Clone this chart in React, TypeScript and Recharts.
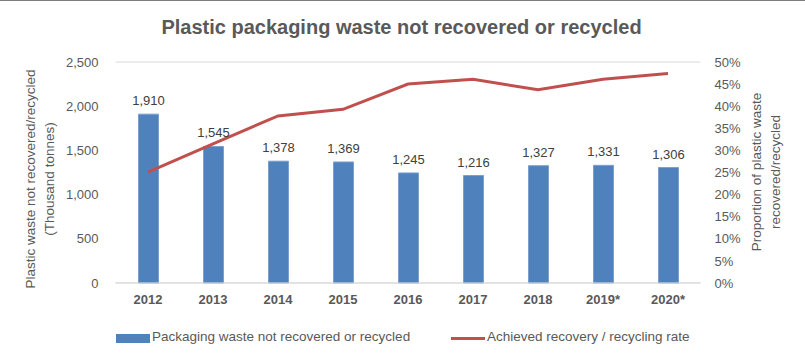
import { ComposedChart, Bar, Line, XAxis, YAxis, CartesianGrid, LabelList } from 'recharts'

const years = ['2012', '2013', '2014', '2015', '2016', '2017', '2018', '2019*', '2020*']
const wasteNotRecovered = [1910, 1545, 1378, 1369, 1245, 1216, 1327, 1331, 1306]
const recoveryRate = [25.1, 31.5, 37.8, 39.3, 45.0, 46.1, 43.7, 46.1, 47.4]
const leftTicks = [0, 500, 1000, 1500, 2000, 2500]
const rightTicks = [0, 5, 10, 15, 20, 25, 30, 35, 40, 45, 50]

const data = years.map((year, i) => ({
  year,
  waste: wasteNotRecovered[i],
  rate: recoveryRate[i],
}))

const FONT = '"Liberation Sans", Arial, sans-serif'
const GREY = '#595959'

const fmt = (v: number) => v.toLocaleString('en-US')

const rotated = (left: number, top: number) => ({
  position: 'absolute' as const,
  left,
  top,
  transform: 'translate(-50%, -50%) rotate(-90deg)',
  whiteSpace: 'nowrap' as const,
  textAlign: 'center' as const,
  fontSize: 13.5,
  lineHeight: '19px',
  color: GREY,
})

function ChartLegend() {
  return (
    <div style={{ position: 'absolute', left: 0, top: 329, fontSize: 13.5, color: GREY, whiteSpace: 'nowrap' }}>
      <span style={{ position: 'absolute', left: 116, top: 5, width: 34, height: 9, background: '#4F81BD' }} />
      <span style={{ position: 'absolute', left: 152, top: 0 }}>Packaging waste not recovered or recycled</span>
      <span style={{ position: 'absolute', left: 451, top: 8, width: 34, height: 3, background: '#C0504D' }} />
      <span style={{ position: 'absolute', left: 487, top: 0 }}>Achieved recovery / recycling rate</span>
    </div>
  )
}

export default function App() {
  return (
    <div style={{ position: 'relative', width: 805, height: 357, background: '#fff', fontFamily: FONT }}>
      <style>{'body{margin:0}'}</style>
      <div style={{ position: 'absolute', left: 0, top: 0, width: 805, height: 1, background: '#7f7f7f' }} />
      <div
        style={{
          position: 'absolute',
          left: 0,
          top: 16,
          width: 803,
          textAlign: 'center',
          fontSize: 20,
          fontWeight: 'bold',
          color: GREY,
        }}
      >
        Plastic packaging waste not recovered or recycled
      </div>
      <div style={rotated(40, 179)}>
        Plastic waste not recovered/recycled
        <br />
        (Thousand tonnes)
      </div>
      <div style={rotated(766, 172)}>
        Proportion of plastic waste
        <br />
        recovered/recycled
      </div>
      <div style={{ position: 'absolute', left: 0, top: 0 }}>
        <ComposedChart
          width={805}
          height={357}
          data={data}
          margin={{ top: 62, right: 64.5, bottom: 44, left: 0 }}
        >
          <CartesianGrid vertical={false} stroke="#d9d9d9" />
          <XAxis
            dataKey="year"
            axisLine={{ stroke: '#d9d9d9' }}
            tickLine={false}
            height={30}
            tickMargin={6}
            tick={{ fill: GREY, fontSize: 13, fontWeight: 'bold', fontFamily: FONT }}
            interval={0}
          />
          <YAxis
            yAxisId="left"
            width={115.5}
            domain={[0, 2500]}
            ticks={leftTicks}
            interval={0}
            axisLine={false}
            tickLine={false}
            tickMargin={11}
            tickFormatter={fmt}
            tick={{ fill: GREY, fontSize: 13, fontFamily: FONT }}
          />
          <YAxis
            yAxisId="right"
            orientation="right"
            width={40}
            domain={[0, 50]}
            ticks={rightTicks}
            interval={0}
            axisLine={false}
            tickLine={false}
            tickMargin={8}
            tickFormatter={(v) => `${v}%`}
            tick={{ fill: GREY, fontSize: 13, fontFamily: FONT }}
          />
          <Bar
            yAxisId="left"
            dataKey="waste"
            fill="#4F81BD"
            stroke="#7c9fcc"
            strokeWidth={1}
            barSize={20}
            isAnimationActive={false}
          >
            <LabelList
              dataKey="waste"
              position="top"
              offset={9}
              formatter={(v: any) => fmt(Number(v))}
              style={{ fill: '#404040', fontSize: 13, fontFamily: FONT }}
            />
          </Bar>
          <Line
            yAxisId="right"
            dataKey="rate"
            stroke="#C0504D"
            strokeWidth={3}
            dot={false}
            isAnimationActive={false}
          />
        </ComposedChart>
      </div>
      <ChartLegend />
    </div>
  )
}
